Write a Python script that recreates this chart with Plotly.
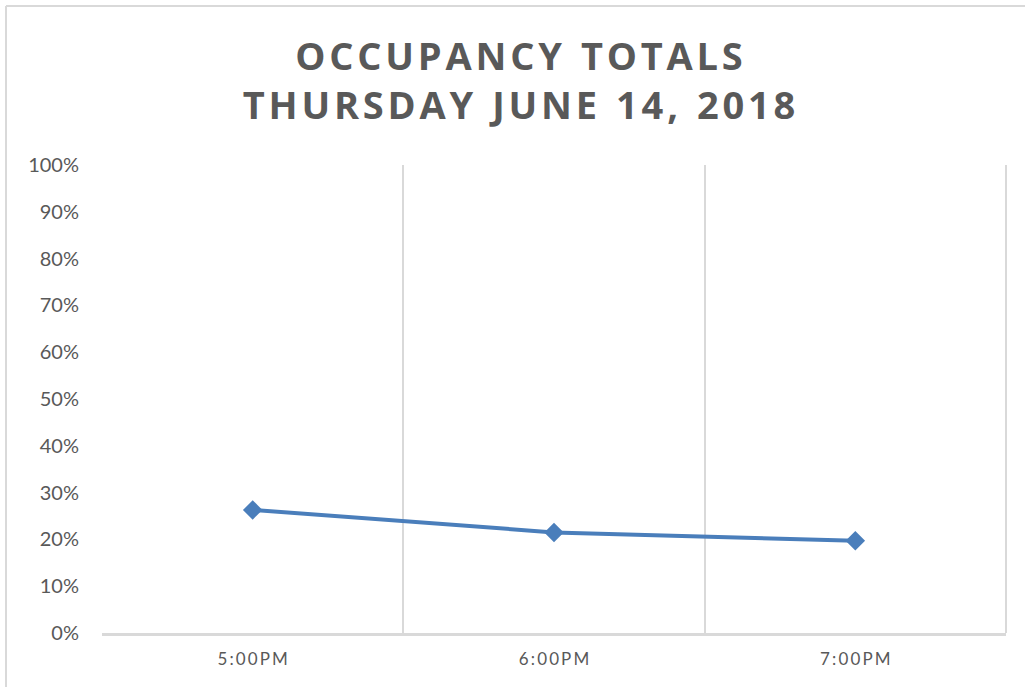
import plotly.graph_objects as go

categories = ["5:00PM", "6:00PM", "7:00PM"]
occupancy = [0.263, 0.215, 0.197]
y_ticks = [0, 0.1, 0.2, 0.3, 0.4, 0.5, 0.6, 0.7, 0.8, 0.9, 1.0]
y_tick_labels = ["0%", "10%", "20%", "30%", "40%", "50%", "60%", "70%", "80%", "90%", "100%"]
title_lines = ["OCCUPANCY TOTALS", "THURSDAY JUNE 14, 2018"]

grey = "#595959"
line_col = "#4A7EBB"
grid_col = "#D9D9D9"


def spaced(s, sep="\u200a", word_sep="\u2002"):
    # emulate letter spacing with thin/hair spaces between characters
    return word_sep.join(sep.join(w) for w in s.split(" "))


fig = go.Figure()
fig.add_trace(go.Scatter(
    x=categories, y=occupancy, mode="lines+markers",
    line=dict(color=line_col, width=4),
    marker=dict(symbol="diamond", size=15, color=line_col),
    hoverinfo="x+y",
))

W, H = 1025, 687
L, R, T, B = 102, 19, 165, 54
pw, ph = W - L - R, H - T - B


def px(x):
    return (x - L) / pw


def py(y):
    return (H - B - y) / ph


fig.update_layout(
    width=W, height=H,
    margin=dict(l=L, r=R, t=T, b=B),
    paper_bgcolor="white", plot_bgcolor="white",
    showlegend=False,
    title=dict(
        text="<br>".join(spaced(t) for t in title_lines),
        x=519 / W, xref="container", xanchor="center",
        y=1 - 70 / H, yref="container", yanchor="middle",
        font=dict(family="Open Sans", size=38, color=grey, weight="bold"),
    ),
    font=dict(family="Lato", color=grey),
    xaxis=dict(
        type="category", tickson="boundaries",
        tickvals=categories, ticktext=[spaced(c, sep="\u2009") for c in categories],
        showgrid=True, gridcolor=grid_col, gridwidth=2,
        showline=True, linecolor=grid_col, linewidth=3,
        ticks="", tickfont=dict(size=17, color=grey, family="Lato"),
        ticklabelstandoff=9,
        range=[-0.5, 2.5], fixedrange=True,
    ),
    yaxis=dict(
        range=[0, 1], tickvals=y_ticks, ticktext=y_tick_labels,
        showgrid=False, zeroline=False, showline=False,
        ticks="", tickfont=dict(size=20, color=grey, family="Lato"),
        ticklabelstandoff=22, fixedrange=True,
    ),
)

# outer chart frame (left and top edges)
fig.add_shape(type="line", xref="paper", yref="paper",
              x0=px(6), x1=px(6), y0=py(6), y1=py(700),
              line=dict(color=grid_col, width=2))
fig.add_shape(type="line", xref="paper", yref="paper",
              x0=px(6), x1=px(1040), y0=py(6), y1=py(6),
              line=dict(color=grid_col, width=2))
# right boundary gridline
fig.add_shape(type="line", xref="paper", yref="paper",
              x0=1, x1=1, y0=0, y1=1,
              line=dict(color=grid_col, width=2))

fig.write_html("out.html", config={"displayModeBar": False},
               post_script="document.body.style.margin='0';")
